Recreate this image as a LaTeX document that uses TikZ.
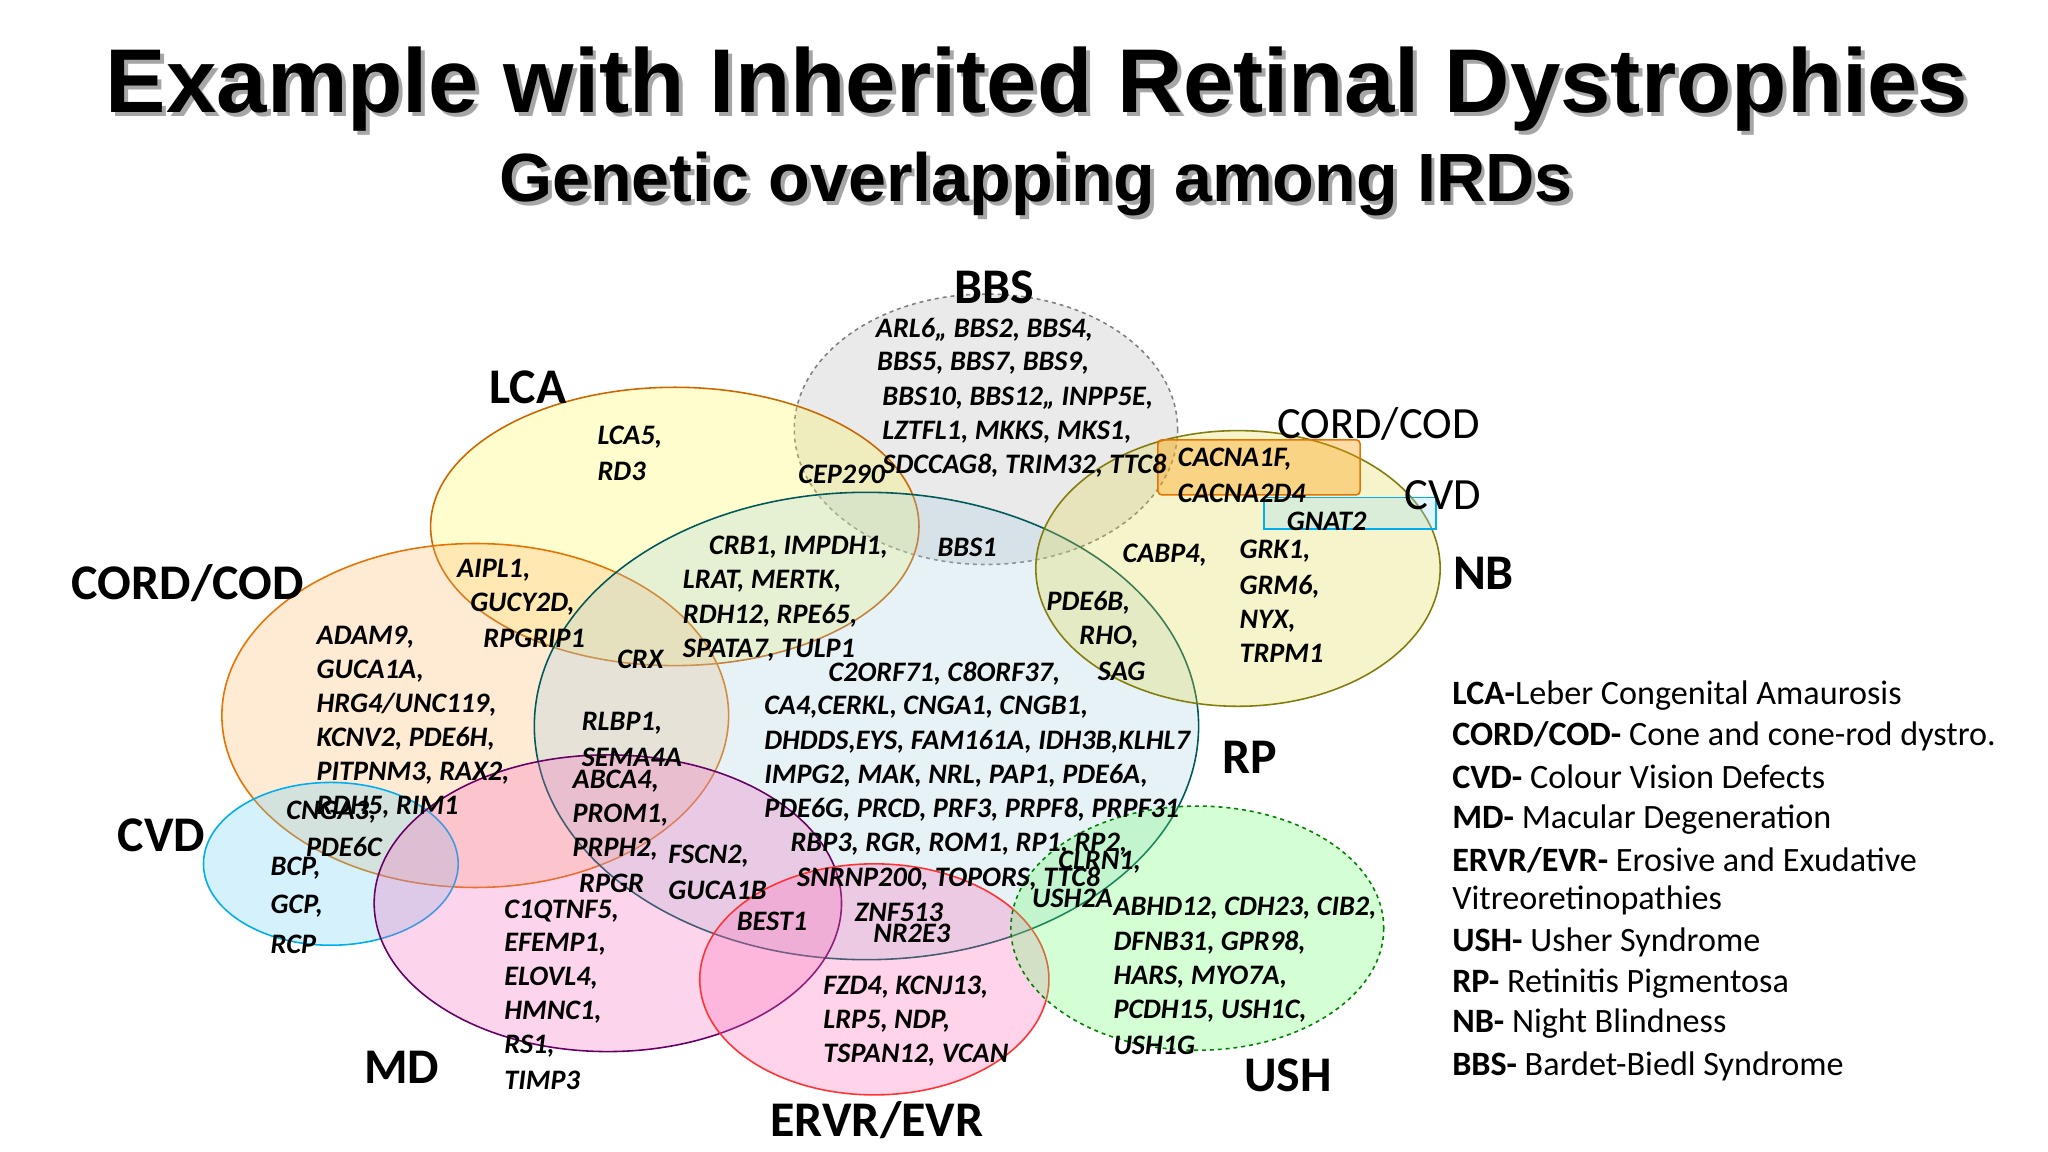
\documentclass[tikz,border=0pt]{standalone}
\usepackage{fontspec}
\setmainfont{Carlito}
\newfontfamily\tfont{Liberation Sans}
\begin{document}
\begin{tikzpicture}[x=1pt,y=-1pt,
 gene/.style={anchor=west,inner sep=0pt,font=\fontsize{21.5}{23}\selectfont\bfseries\itshape},
 lab/.style={inner sep=0pt,font=\fontsize{38}{40}\selectfont\bfseries},
 labr/.style={inner sep=0pt,font=\fontsize{34}{36}\selectfont},
 leg/.style={anchor=west,inner sep=0pt,font=\fontsize{26}{28}\selectfont},
 set/.style={line width=1.2pt,fill opacity=0.28}]
\useasboundingbox (0,0) rectangle (1560,877);
\newcommand\gn[3]{\node[gene] at (#1,#2) {#3};}
% sets
\draw[set,draw=gray,dashed,fill=gray!60] (751,327) ellipse [x radius=146,y radius=103];
\draw[set,draw=orange!80!black,fill=yellow!70] (514,401) ellipse [x radius=186,y radius=106];
\draw[set,draw=orange!90!black,fill=orange!60] (362,545) ellipse [x radius=193,y radius=131];
\draw[set,draw=teal!70!black,fill=cyan!40!teal!40] (660,553) ellipse [x radius=253,y radius=178];
\draw[set,draw=olive!90!black,fill=yellow!60!olive!70] (943,433) ellipse [x radius=154,y radius=105];
\draw[set,draw=cyan,fill=cyan!60] (252,658) ellipse [x radius=97,y radius=62];
\draw[set,draw=violet!80!black,fill=magenta!60] (463,688) ellipse [x radius=178,y radius=113];
\draw[set,draw=red!80,fill=red!50!magenta!60] (666,746) ellipse [x radius=133,y radius=88];
\draw[set,draw=green!50!black,dashed,fill=green!60] (912,707) ellipse [x radius=142,y radius=93];
\draw[line width=1.2pt,draw=orange!90!black,fill=orange!80!yellow,fill opacity=0.35,rounded corners=3pt] (882,335) rectangle (1036,377);
\draw[line width=1.2pt,draw=cyan,fill=cyan!40,fill opacity=0.3] (963,379) rectangle (1094,403);
% title
\node[text=gray!70] at (793,71) {\tfont\bfseries\fontsize{69}{74}\selectfont Example with Inherited Retinal Dystrophies};
\node (title) at (790,68) {\tfont\bfseries\fontsize{69}{74}\selectfont Example with Inherited Retinal Dystrophies};
\node[text=gray!70] at (792,143) {\tfont\bfseries\fontsize{52}{56}\selectfont Genetic overlapping among IRDs};
\node (sub) at (789,140) {\tfont\bfseries\fontsize{52}{56}\selectfont Genetic overlapping among IRDs};
% labels
\node[lab] (lBBS) at (757,219) {BBS};
\node[lab] (lLCA) at (402,295) {LCA};
\node[lab] (lCC) at (143,444) {CORD/COD};
\node[lab] (lCVD) at (123,636) {CVD};
\node[lab] (lMD) at (306,813) {MD};
\node[lab] (lER) at (668,853) {ERVR/EVR};
\node[lab] (lUSH) at (981,819) {USH};
\node[lab] (lRP) at (952,577) {RP};
\node[lab] (lNB) at (1130,437) {NB};
\node[labr] (lCC2) at (1050,323) {CORD/COD};
\node[labr] (lCVD2) at (1099,377) {CVD};
% genes
\gn{667}{251}{ARL6,, BBS2, BBS4,}
\gn{668}{277}{BBS5, BBS7, BBS9,}
\gn{672}{303}{BBS10, BBS12,, INPP5E,}
\gn{672}{329}{LZTFL1, MKKS, MKS1,}
\gn{672}{355}{SDCCAG8, TRIM32, TTC8}
\gn{455}{333}{LCA5,}
\gn{455}{359}{RD3}
\gn{608}{361}{CEP290}
\gn{897}{350}{CACNA1F,}
\gn{897}{376}{CACNA2D4}
\gn{980}{397}{GNAT2}
\gn{540}{417}{CRB1, IMPDH1,}
\gn{714}{417}{BBS1}
\gn{520}{443}{LRAT, MERTK,}
\gn{520}{469}{RDH12, RPE65,}
\gn{520}{495}{SPATA7, TULP1}
\gn{855}{423}{CABP4,}
\gn{944}{420}{GRK1,}
\gn{944}{447}{GRM6,}
\gn{944}{473}{NYX,}
\gn{944}{498}{TRPM1}
\gn{797}{459}{PDE6B,}
\gn{822}{485}{RHO,}
\gn{836}{511}{SAG}
\gn{348}{434}{AIPL1,}
\gn{358}{460}{GUCY2D,}
\gn{368}{486}{RPGRIP1}
\gn{470}{502}{CRX}
\gn{241}{485}{ADAM9,}
\gn{241}{511}{GUCA1A,}
\gn{241}{537}{HRG4/UNC119,}
\gn{241}{563}{KCNV2, PDE6H,}
\gn{241}{589}{PITPNM3, RAX2,}
\gn{241}{615}{RDH5, RIM1}
\gn{218}{619}{CNGA3,}
\gn{233}{645}{PDE6C}
\gn{631}{513}{C2ORF71, C8ORF37,}
\gn{582}{539}{CA4,CERKL, CNGA1, CNGB1,}
\gn{582}{565}{DHDDS,EYS, FAM161A, IDH3B,KLHL7}
\gn{582}{591}{IMPG2, MAK, NRL, PAP1, PDE6A,}
\gn{582}{617}{PDE6G, PRCD, PRF3, PRPF8, PRPF31}
\gn{602}{643}{RBP3, RGR, ROM1, RP1, RP2,}
\gn{607}{669}{SNRNP200, TOPORS, TTC8}
\gn{651}{695}{ZNF513}
\gn{665}{711}{NR2E3}
\gn{443}{551}{RLBP1,}
\gn{443}{577}{SEMA4A}
\gn{436}{595}{ABCA4,}
\gn{436}{621}{PROM1,}
\gn{436}{647}{PRPH2,}
\gn{509}{652}{FSCN2,}
\gn{441}{673}{RPGR}
\gn{509}{678}{GUCA1B}
\gn{561}{702}{BEST1}
\gn{806}{657}{CLRN1,}
\gn{786}{684}{USH2A}
\gn{848}{692}{ABHD12, CDH23, CIB2,}
\gn{848}{718}{DFNB31, GPR98,}
\gn{848}{744}{HARS, MYO7A,}
\gn{848}{770}{PCDH15, USH1C,}
\gn{848}{796}{USH1G}
\gn{206}{661}{BCP,}
\gn{206}{690}{GCP,}
\gn{206}{719}{RCP}
\gn{384}{694}{C1QTNF5,}
\gn{384}{719}{EFEMP1,}
\gn{384}{745}{ELOVL4,}
\gn{384}{771}{HMNC1,}
\gn{384}{797}{RS1,}
\gn{384}{823}{TIMP3}
\gn{627}{752}{FZD4, KCNJ13,}
\gn{627}{778}{LRP5, NDP,}
\gn{627}{804}{TSPAN12, VCAN}
% legend
\node[leg] at (1106,530) {\textbf{LCA-}Leber Congenital Amaurosis};
\node[leg] at (1106,561) {\textbf{CORD/COD-} Cone and cone-rod dystro.};
\node[leg] at (1106,592) {\textbf{CVD-} Colour Vision Defects};
\node[leg] at (1106,624) {\textbf{MD-} Macular Degeneration};
\node[leg] at (1106,655) {\textbf{ERVR/EVR-} Erosive and Exudative};
\node[leg] at (1106,686) {Vitreoretinopathies};
\node[leg] at (1106,718) {\textbf{USH-} Usher Syndrome};
\node[leg] at (1106,749) {\textbf{RP-} Retinitis Pigmentosa};
\node[leg] at (1106,780) {\textbf{NB-} Night Blindness};
\node[leg] at (1106,812) {\textbf{BBS-} Bardet-Biedl Syndrome};
\end{tikzpicture}
\end{document}
